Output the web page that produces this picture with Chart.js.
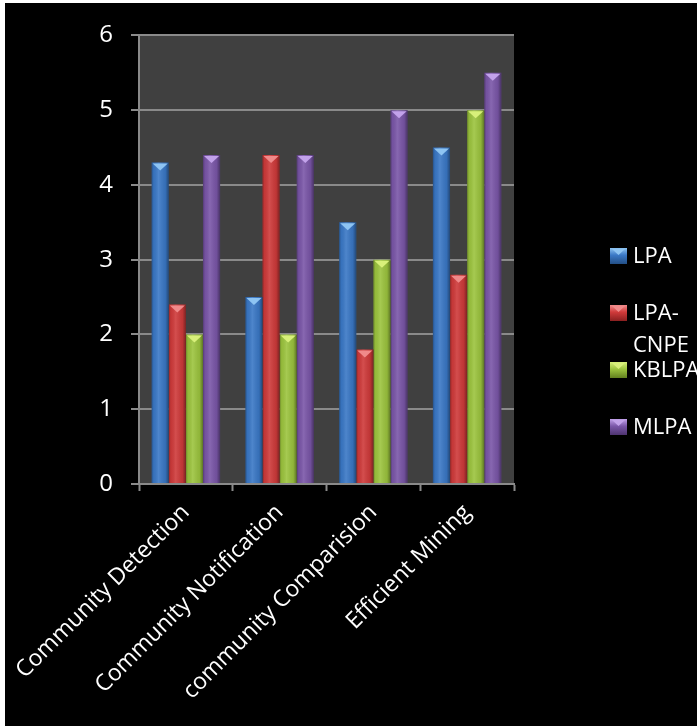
<!DOCTYPE html>
<html>
<head>
<meta charset="utf-8">
<script src="https://cdn.jsdelivr.net/npm/chart.js@4/dist/chart.umd.min.js"></script>
<style>
  html, body { margin: 0; padding: 0; background: #ffffff; }
  #wrap { position: absolute; left: 5px; top: 3px; width: 692px; height: 723px; background: #000000; }
  canvas { display: block; }
</style>
</head>
<body>
<div id="wrap"><canvas id="c" width="692" height="723"></canvas></div>
<script>
const categories = ['Community Detection', 'Community Notification', 'community Comparision', 'Efficient Mining'];
const seriesNames = ['LPA', 'LPA-CNPE', 'KBLPA', 'MLPA'];
const lpaValues = [4.3, 2.5, 3.5, 4.5];
const lpaCnpeValues = [2.4, 4.4, 1.8, 2.8];
const kblpaValues = [2.0, 2.0, 3.0, 5.0];
const mlpaValues = [4.4, 4.4, 5.0, 5.5];
const yTicks = [0, 1, 2, 3, 4, 5, 6];

const fills = ['#3a78c6', '#cf3a3a', '#9cc43e', '#7a56a8'];
const tops = ['#8ec4f2', '#f08a8a', '#d8f07a', '#c2a2ea'];
const edges = ['#234f86', '#8a2020', '#62801f', '#4e3470'];

const FONT = '"Open Sans", "DejaVu Sans", sans-serif';

const bgPlugin = {
  id: 'bg',
  beforeDraw(chart) {
    const { ctx, chartArea: a } = chart;
    ctx.save();
    ctx.fillStyle = '#000000';
    ctx.fillRect(0, 0, chart.width, chart.height);
    ctx.fillStyle = '#404040';
    ctx.fillRect(a.left, a.top, a.right - a.left, a.bottom - a.top);
    ctx.restore();
  }
};

const bevelPlugin = {
  id: 'bevel',
  afterDatasetsDraw(chart) {
    const ctx = chart.ctx;
    chart.data.datasets.forEach((ds, di) => {
      const meta = chart.getDatasetMeta(di);
      meta.data.forEach(el => {
        const w = el.width, l = el.x - w / 2, r = el.x + w / 2;
        const t = el.y, b = el.base;
        ctx.save();
        const g = ctx.createLinearGradient(l, 0, r, 0);
        g.addColorStop(0, 'rgba(0,0,0,0.30)');
        g.addColorStop(0.12, 'rgba(0,0,0,0.05)');
        g.addColorStop(0.4, 'rgba(255,255,255,0.10)');
        g.addColorStop(0.8, 'rgba(0,0,0,0.08)');
        g.addColorStop(1, 'rgba(0,0,0,0.40)');
        ctx.fillStyle = g;
        ctx.fillRect(l, t, w, b - t);
        ctx.fillStyle = tops[di];
        ctx.beginPath();
        ctx.moveTo(l + 1, t + 1);
        ctx.lineTo(r - 1, t + 1);
        ctx.lineTo(el.x, t + 8);
        ctx.closePath();
        ctx.fill();
        ctx.restore();
      });
    });
  }
};

const legendPlugin = {
  id: 'sideLegend',
  afterDraw(chart) {
    const ctx = chart.ctx;
    ctx.save();
    ctx.font = '22px ' + FONT;
    ctx.textBaseline = 'middle';
    ctx.textAlign = 'left';
    const boxX = 605, textX = 628, maxW = chart.width - textX;
    let y = 253;
    chart.data.datasets.forEach((ds, i) => {
      const g = ctx.createLinearGradient(0, y - 8, 0, y + 8);
      g.addColorStop(0, tops[i]);
      g.addColorStop(0.45, fills[i]);
      g.addColorStop(1, edges[i]);
      ctx.fillStyle = g;
      ctx.fillRect(boxX, y - 8, 17, 16);
      ctx.fillStyle = tops[i];
      ctx.beginPath();
      ctx.moveTo(boxX + 2, y - 7);
      ctx.lineTo(boxX + 15, y - 7);
      ctx.lineTo(boxX + 8.5, y - 1);
      ctx.closePath();
      ctx.fill();
      ctx.fillStyle = '#ffffff';
      const text = ds.label;
      let lines = [text];
      if (ctx.measureText(text).width > maxW && text.indexOf('-') > 0) {
        const k = text.indexOf('-') + 1;
        lines = [text.slice(0, k), text.slice(k)];
      }
      lines.forEach((ln, j) => ctx.fillText(ln, textX, y + 1 + j * 32));
      y += 57;
    });
    ctx.restore();
  }
};

new Chart(document.getElementById('c'), {
  type: 'bar',
  data: {
    labels: categories,
    datasets: [
      { label: seriesNames[0], data: lpaValues, backgroundColor: fills[0] },
      { label: seriesNames[1], data: lpaCnpeValues, backgroundColor: fills[1] },
      { label: seriesNames[2], data: kblpaValues, backgroundColor: fills[2] },
      { label: seriesNames[3], data: mlpaValues, backgroundColor: fills[3] }
    ]
  },
  options: {
    responsive: false,
    animation: false,
    devicePixelRatio: 1,
    layout: { padding: { top: 31, right: 183, bottom: 0, left: 0 } },
    datasets: { bar: { barPercentage: 1.0, categoryPercentage: 0.73, borderWidth: 0 } },
    plugins: { legend: { display: false }, tooltip: { enabled: false } },
    scales: {
      x: {
        grid: { display: true, offset: true, drawOnChartArea: false, drawTicks: true, tickLength: 7, tickColor: '#8a8a8a', tickWidth: 2 },
        border: { display: true, color: '#8a8a8a', width: 2 },
        ticks: { color: '#ffffff', font: { family: FONT, size: 23 }, minRotation: 45, maxRotation: 45, padding: 8, autoSkip: false },
        afterFit(scale) { scale.height = 242; scale.paddingLeft = 0; scale.paddingRight = 0; }
      },
      y: {
        min: 0, max: 6,
        afterBuildTicks(scale) { scale.ticks = yTicks.map(v => ({ value: v })); },
        grid: { color: '#8a8a8a', lineWidth: 2, drawTicks: true, tickLength: 8, tickColor: '#8a8a8a', tickWidth: 2 },
        border: { display: true, color: '#8a8a8a', width: 2 },
        ticks: { color: '#ffffff', font: { family: FONT, size: 24 }, padding: 18 },
        afterFit(scale) { scale.width = 134; }
      }
    }
  },
  plugins: [bgPlugin, bevelPlugin, legendPlugin]
});
</script>
</body>
</html>
